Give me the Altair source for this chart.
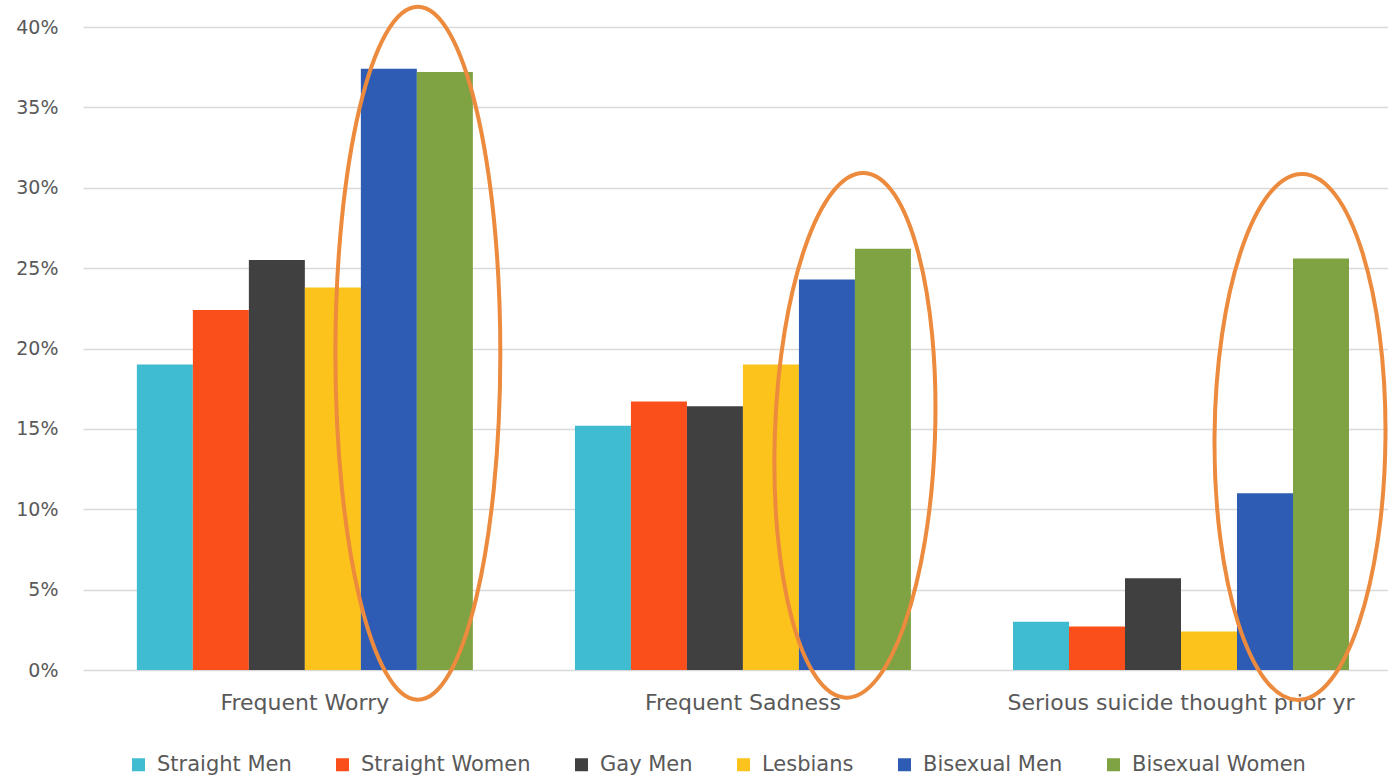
import altair as alt
import pandas as pd

# ---- data ----
CATEGORIES = ["Frequent Worry", "Frequent Sadness", "Serious suicide thought prior yr"]
GROUPS = ["Straight Men", "Straight Women", "Gay Men", "Lesbians", "Bisexual Men", "Bisexual Women"]
COLORS = ["#3FBCD0", "#FA4F1B", "#404040", "#FBC31B", "#2E5CB4", "#7FA243"]
WORRY = [0.190, 0.224, 0.255, 0.238, 0.374, 0.372]
SADNESS = [0.152, 0.167, 0.164, 0.190, 0.243, 0.262]
SUICIDE = [0.030, 0.027, 0.057, 0.024, 0.110, 0.256]
Y_TICKS = [0.0, 0.05, 0.10, 0.15, 0.20, 0.25, 0.30, 0.35, 0.40]

# highlighted (circled) regions: category and vertical centre in data units
HIGHLIGHT_CATEGORIES = ["Frequent Worry", "Frequent Sadness", "Serious suicide thought prior yr"]
HIGHLIGHT_CENTERS = [0.197, 0.146, 0.145]

FONT = "DejaVu Sans"
TEXT_COLOR = "#595959"
ORANGE = "#EC8A3D"

rows = []
for cat, vals in zip(CATEGORIES, [WORRY, SADNESS, SUICIDE]):
    for g, v in zip(GROUPS, vals):
        rows.append({"category": cat, "group": g, "value": v})
df = pd.DataFrame(rows)

x_enc = alt.X(
    "category:N",
    sort=CATEGORIES,
    title=None,
    scale=alt.Scale(paddingInner=0.233, paddingOuter=0.106, align=0.58),
    axis=alt.Axis(labelAngle=0, labelFont=FONT, labelFontSize=22, labelColor=TEXT_COLOR,
                  labelPadding=22, labelLimit=0, tickSize=0, ticks=False, domain=False, grid=False),
)
y_enc = alt.Y(
    "value:Q",
    title=None,
    scale=alt.Scale(domain=[0, 0.4], nice=False),
    axis=alt.Axis(values=Y_TICKS, format=".0%", labelFont=FONT, labelFontSize=19,
                  labelColor=TEXT_COLOR, labelPadding=25, tickSize=0, ticks=False,
                  domain=False, grid=True, gridColor="#D9D9D9", gridWidth=1.3),
)

bars = alt.Chart(df).mark_bar().encode(
    x=x_enc,
    y=y_enc,
    xOffset=alt.XOffset("group:N", sort=GROUPS, scale=alt.Scale(paddingInner=0, paddingOuter=0)),
    color=alt.Color(
        "group:N",
        sort=GROUPS,
        scale=alt.Scale(domain=GROUPS, range=COLORS),
        legend=alt.Legend(
            orient="none", legendX=45, legendY=727, direction="horizontal", title=None,
            symbolType="square", symbolSize=169, symbolStrokeWidth=0,
            labelFont=FONT, labelFontSize=21, labelColor=TEXT_COLOR, labelLimit=0,
            labelOffset=8, columnPadding=40, padding=0,
        ),
    ),
)


def ellipse_path(a, k=0.5523):
    ka = k * a
    return (
        f"M 0 -1 C {ka:.4f} -1 {a:.4f} {-k:.4f} {a:.4f} 0 "
        f"C {a:.4f} {k:.4f} {ka:.4f} 1 0 1 "
        f"C {-ka:.4f} 1 {-a:.4f} {k:.4f} {-a:.4f} 0 "
        f"C {-a:.4f} {-k:.4f} {-ka:.4f} -1 0 -1 Z"
    )


# ellipse shape style: (width/height ratio, size, pixel x shift, rotation)
ELLIPSE_STYLES = [
    (0.238, 480249, 113, 0.0),
    (0.305, 275625, 112, 2.0),
    (0.325, 276676, 119, 0.5),
]

layers = [bars]
for cat, centre, (ratio, size, shift, ang) in zip(HIGHLIGHT_CATEGORIES, HIGHLIGHT_CENTERS, ELLIPSE_STYLES):
    edf = pd.DataFrame({"category": [cat], "value": [centre]})
    layers.append(
        alt.Chart(edf).mark_point(
            shape=ellipse_path(ratio), size=size, filled=False, stroke=ORANGE,
            strokeWidth=4, opacity=1, xOffset=shift, angle=ang,
        ).encode(x=x_enc, y=y_enc)
    )

chart = alt.layer(*layers).properties(
    width=1305,
    height=643,
    autosize=alt.AutoSizeParams(type="none"),
    padding={"left": 83, "top": 27, "right": 0, "bottom": 111},
    background="white",
).configure_view(stroke=None)

chart.save("out.html", embed_options={"renderer": "svg", "actions": False})
